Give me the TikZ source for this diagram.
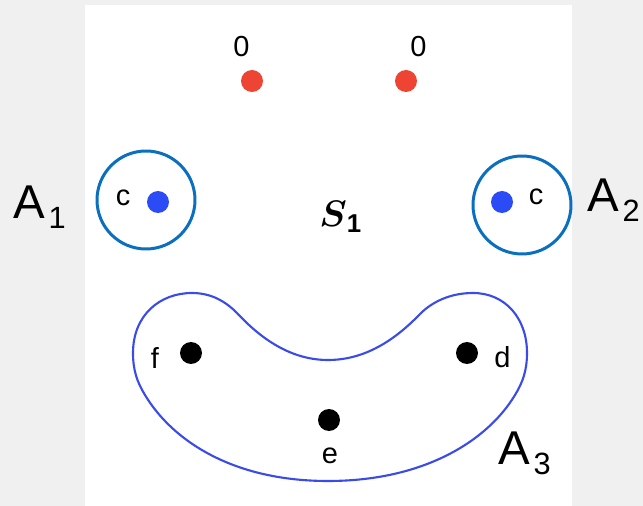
\documentclass[tikz,border=0pt]{standalone}
\usepackage{amsmath}
\usepackage{fontspec}
\setmainfont{Liberation Sans}
\usetikzlibrary{positioning}

\definecolor{pagegray}{HTML}{F0F0F0}
\definecolor{dotred}{HTML}{EE4433}
\definecolor{dotblue}{HTML}{2A4BF5}
\definecolor{ringblue}{HTML}{0B6FBF}
\definecolor{beanblue}{HTML}{3A4BEA}

\newcommand{\Alab}[1]{{\fontsize{27}{30}\selectfont A}\kern2pt\raisebox{-5.5pt}{\fontsize{17.5}{20}\selectfont #1}}

\begin{document}
\begin{tikzpicture}[
        x=0.02cm, y=-0.02cm,
        reddot/.style={circle, fill=dotred, inner sep=0pt, minimum size=0.44cm},
        bluedot/.style={circle, fill=dotblue, inner sep=0pt, minimum size=0.44cm},
        blackdot/.style={circle, fill=black, inner sep=0pt, minimum size=0.44cm},
        ring/.style={circle, draw=ringblue, line width=1.7pt, inner sep=0pt, minimum size=1.96cm},
        lbl/.style={font=\fontsize{16.5}{18}\selectfont, inner sep=0pt, anchor=base},
        setlbl/.style={inner sep=0pt, anchor=base west},
        bean/.style={draw=beanblue, line width=1.2pt}
    ]
    \useasboundingbox (0,0) rectangle (643,506);
    \fill[pagegray] (0,0) rectangle (643,506);
    \fill[white] (85,5) rectangle (572,506);

    % Top points
    \node (z1) [reddot] at (252,81) {};
    \node (z2) [reddot] at (406,81) {};
    \node (z1lbl) [lbl] at (241.5,57) {0};
    \node (z2lbl) [lbl] at (418.5,57) {0};

    % Sets A1 and A2
    \node (A1) [ring] at (146,200) {};
    \node (A2) [ring] at (522,205) {};
    \node (c1) [bluedot] at (158,202) {};
    \node (c2) [bluedot] at (502,202) {};
    \node (c1lbl) [lbl] at (123,206) {c};
    \node (c2lbl) [lbl] at (536,205) {c};
    \node (A1lbl) [setlbl] at (13,219) {\Alab{1}};
    \node (A2lbl) [setlbl] at (587,212) {\Alab{2}};

    \node (S1) [setlbl] at (319,227) {\scalebox{2.1}{$\boldsymbol{S}_{\mathbf{1}}$}};

    % Set A3
    \draw [bean] (133,353) .. controls (133,315) and (160,293) .. (192,293)
        .. controls (212,293) and (226,302) .. (237,313)
        .. controls (262,340) and (292,360) .. (328,360)
        .. controls (365,360) and (395,340) .. (420,314)
        .. controls (432,302) and (450,293) .. (473,293)
        .. controls (505,293) and (527,318) .. (527,353)
        .. controls (527,370) and (523,382) .. (515,395)
        .. controls (488,440) and (425,481) .. (328,481)
        .. controls (232,481) and (172,440) .. (145,395)
        .. controls (137,382) and (133,370) .. (133,353) -- cycle;
    \node (f) [blackdot] at (191,353) {};
    \node (d) [blackdot] at (467,353) {};
    \node (e) [blackdot] at (329,420) {};
    \node (flbl) [lbl] at (155,369) {f};
    \node (dlbl) [lbl] at (502.5,368) {d};
    \node (elbl) [lbl] at (330,464) {e};
    \node (A3lbl) [setlbl] at (498,465) {\Alab{3}};

    \end{tikzpicture}
\end{document}
